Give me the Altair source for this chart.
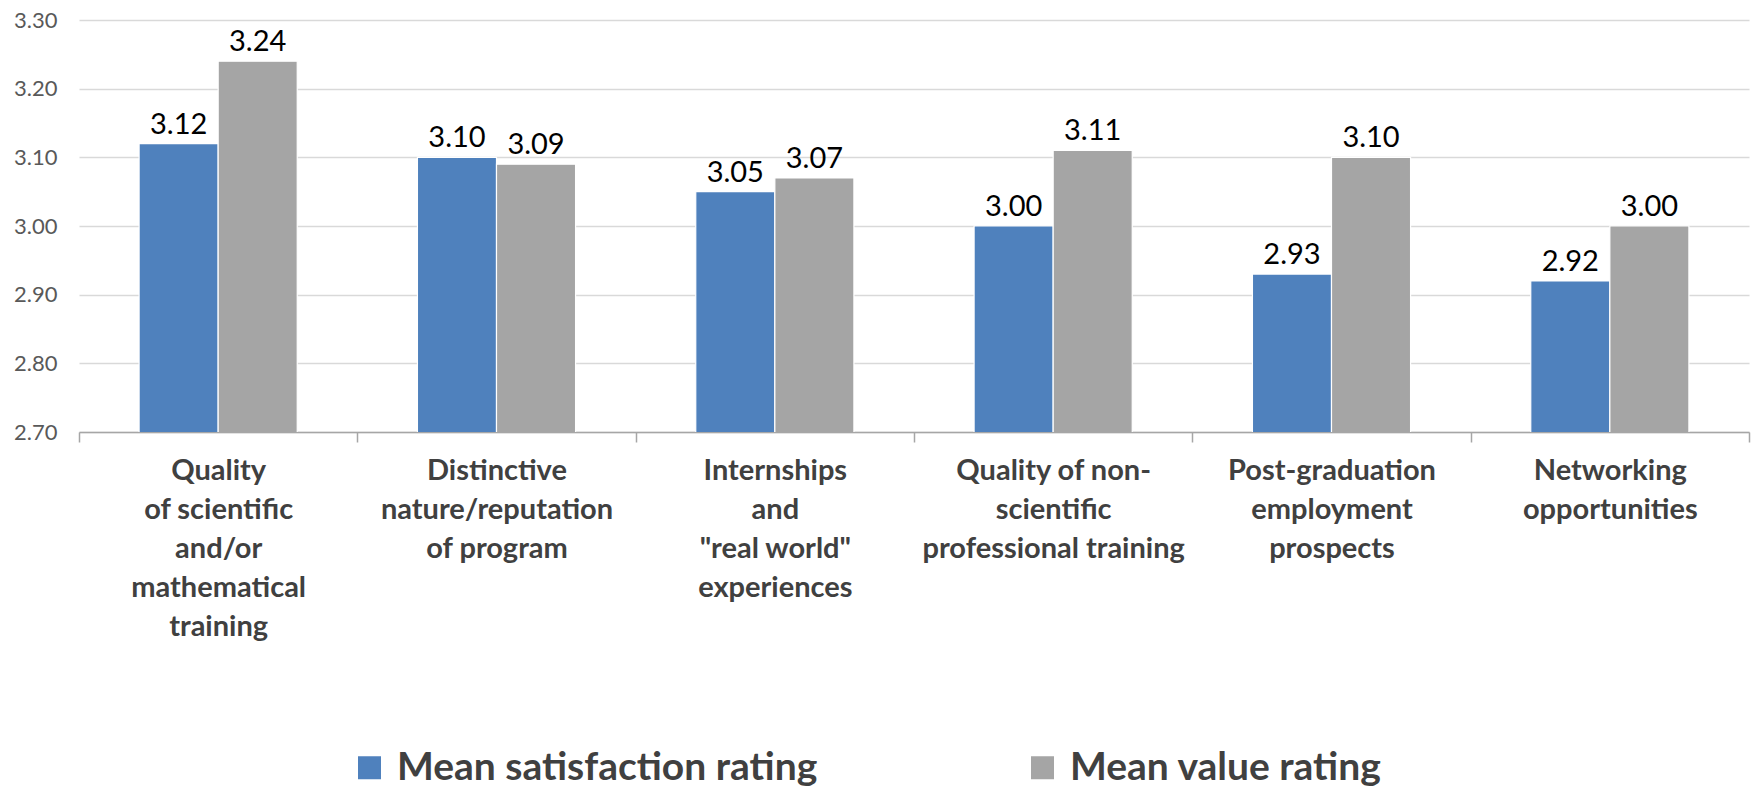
import altair as alt
import pandas as pd

# Category labels (line breaks mark where each axis label wraps)
categories = [
    "Quality\nof scientific\nand/or\nmathematical\ntraining",
    "Distinctive\nnature/reputation\nof program",
    "Internships\nand\n\"real world\"\nexperiences",
    "Quality of non-\nscientific\nprofessional training",
    "Post-graduation\nemployment\nprospects",
    "Networking\nopportunities",
]
series = ["Mean satisfaction rating", "Mean value rating"]
satisfaction = [3.12, 3.10, 3.05, 3.00, 2.93, 2.92]
value_rating = [3.24, 3.09, 3.07, 3.11, 3.10, 3.00]
y_ticks = [2.70, 2.80, 2.90, 3.00, 3.10, 3.20, 3.30]
colors = ["#4F81BD", "#A5A5A5"]

rows = []
for i, cat in enumerate(categories):
    rows.append({"category": cat, "series": series[0], "rating": satisfaction[i]})
    rows.append({"category": cat, "series": series[1], "rating": value_rating[i]})
df = pd.DataFrame(rows)

x_enc = alt.X(
    "category:N",
    sort=categories,
    scale=alt.Scale(paddingInner=0, paddingOuter=0),
    axis=alt.Axis(
        title=None,
        labelAngle=0,
        labelExpr="split(datum.label, '\\n')",
        labelFont="Lato",
        labelFontWeight="bold",
        labelFontSize=29,
        labelColor="#404040",
        labelLineHeight=39,
        labelPadding=14,
        labelLimit=400,
        tickBand="extent",
        tickSize=10,
        tickColor="#A6A6A6",
        tickWidth=1.5,
        domainColor="#A6A6A6",
        domainWidth=1.5,
        grid=False,
    ),
)
xoff_enc = alt.XOffset(
    "series:N",
    sort=series,
    scale=alt.Scale(paddingInner=0, paddingOuter=0.76),
)
y_enc = alt.Y(
    "rating:Q",
    scale=alt.Scale(domain=[2.7, 3.3], nice=False, zero=False),
    axis=alt.Axis(
        title=None,
        values=y_ticks,
        format=".2f",
        labelFont="Lato",
        labelFontSize=22,
        labelColor="#595959",
        labelPadding=22,
        ticks=False,
        domain=False,
        grid=True,
        gridColor="#D9D9D9",
        gridWidth=1.5,
    ),
)

bars = alt.Chart(df).mark_bar(stroke="white", strokeWidth=1.2, clip=True).encode(
    x=x_enc,
    xOffset=xoff_enc,
    y=y_enc,
    color=alt.Color(
        "series:N",
        sort=series,
        scale=alt.Scale(domain=series, range=colors),
        legend=alt.Legend(
            title=None,
            orient="none",
            direction="horizontal",
            legendX=271,
            legendY=728,
            symbolType="square",
            symbolSize=529,
            symbolStrokeWidth=0,
            labelFont="Lato",
            labelFontWeight="bold",
            labelFontSize=39,
            labelColor="#404040",
            labelOffset=8,
            labelLimit=800,
            columnPadding=205,
            padding=0,
        ),
    ),
)

labels = alt.Chart(df).mark_text(
    baseline="bottom", dy=-4, font="Lato", fontSize=29, color="#000000"
).encode(
    x=alt.X("category:N", sort=categories),
    xOffset=alt.XOffset("series:N", sort=series),
    y=alt.Y("rating:Q"),
    text=alt.Text("rating:Q", format=".2f"),
)

chart = (
    alt.layer(bars, labels)
    .properties(
        width=1670,
        height=412,
        autosize=alt.AutoSizeParams(type="none"),
        padding={"left": 79, "top": 20, "right": 5, "bottom": 356},
        background="white",
    )
    .configure_view(stroke=None)
)

chart.save("out.html", embed_options={"renderer": "svg", "actions": False})
